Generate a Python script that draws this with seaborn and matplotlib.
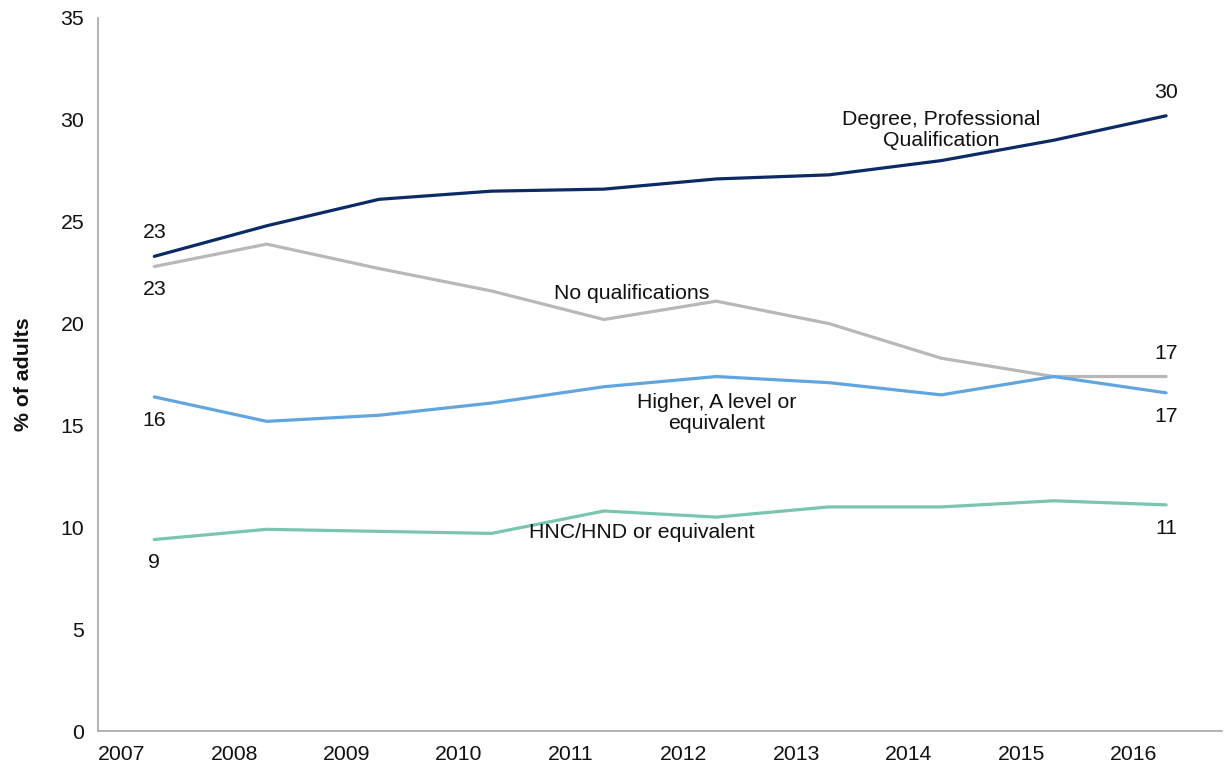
import numpy as np
import pandas as pd
import matplotlib
matplotlib.use("Agg")
import matplotlib.pyplot as plt
import seaborn as sns

# Survey years and share of adults (%) by highest qualification
years = [2007, 2008, 2009, 2010, 2011, 2012, 2013, 2014, 2015, 2016]
degree = [23.3, 24.8, 26.1, 26.5, 26.6, 27.1, 27.3, 28.0, 29.0, 30.2]
no_qual = [22.8, 23.9, 22.7, 21.6, 20.2, 21.1, 20.0, 18.3, 17.4, 17.4]
higher = [16.4, 15.2, 15.5, 16.1, 16.9, 17.4, 17.1, 16.5, 17.4, 16.6]
hnc = [9.4, 9.9, 9.8, 9.7, 10.8, 10.5, 11.0, 11.0, 11.3, 11.1]

series_names = ["Degree, Professional Qualification", "No qualifications",
                "Higher, A level or equivalent", "HNC/HND or equivalent"]
series_values = [degree, no_qual, higher, hnc]
series_colors = ["#0B2A66", "#B8B8B8", "#62A6E0", "#7AC5B2"]
y_ticks = [0, 5, 10, 15, 20, 25, 30, 35]

sns.set_style("white")
plt.rcParams["font.family"] = ["Liberation Sans", "DejaVu Sans"]
plt.rcParams["font.size"] = 15.3
plt.rcParams["text.color"] = "#111111"

rows = []
for name, vals in zip(series_names, series_values):
    for yr, v in zip(years, vals):
        rows.append({"year": yr + 0.5, "value": v, "series": name})
df = pd.DataFrame(rows)

fig = plt.figure(figsize=(12.26, 7.69), dpi=100)
ax = fig.add_axes([0.080, 0.0494, 0.917, 0.9272])

sns.lineplot(data=df, x="year", y="value", hue="series", hue_order=series_names,
             palette=dict(zip(series_names, series_colors)), linewidth=2.3,
             legend=False, ax=ax)

ax.set_xlim(2007, 2017)
ax.set_ylim(0, 35)
ax.set_yticks(y_ticks)
ax.set_yticklabels([str(t) for t in y_ticks])
ax.set_xticks(list(range(2007, 2018)))
ax.set_xticklabels([str(y) for y in years] + [""], ha="left")
ax.tick_params(axis="both", labelsize=15.3, labelcolor="#111111")
ax.tick_params(axis="x", length=5, width=1, color="#A6A6A6", pad=5)
ax.tick_params(axis="y", length=5, width=1, color="#A6A6A6", pad=5)
for side in ["top", "right"]:
    ax.spines[side].set_visible(False)
for side in ["left", "bottom"]:
    ax.spines[side].set_color("#A6A6A6")
    ax.spines[side].set_linewidth(1.2)

ax.set_xlabel("")
ax.set_ylabel("% of adults", fontweight="bold", labelpad=20, color="#111111")

# End-point value labels
first_x = years[0] + 0.5
last_x = years[-1] + 0.5
ax.annotate(f"{degree[0]:.0f}", (first_x, degree[0]), xytext=(0, 10),
            textcoords="offset points", ha="center", va="bottom")
ax.annotate(f"{no_qual[0]:.0f}", (first_x, no_qual[0]), xytext=(0, -10),
            textcoords="offset points", ha="center", va="top")
ax.annotate(f"{higher[0]:.0f}", (first_x, higher[0]), xytext=(0, -10),
            textcoords="offset points", ha="center", va="top")
ax.annotate(f"{hnc[0]:.0f}", (first_x, hnc[0]), xytext=(0, -10),
            textcoords="offset points", ha="center", va="top")
ax.annotate(f"{degree[-1]:.0f}", (last_x, degree[-1]), xytext=(0, 10),
            textcoords="offset points", ha="center", va="bottom")
ax.annotate(f"{no_qual[-1]:.0f}", (last_x, no_qual[-1]), xytext=(0, 10),
            textcoords="offset points", ha="center", va="bottom")
ax.annotate(f"{higher[-1]:.0f}", (last_x, higher[-1]), xytext=(0, -10),
            textcoords="offset points", ha="center", va="top")
ax.annotate(f"{hnc[-1]:.0f}", (last_x, hnc[-1]), xytext=(0, -10),
            textcoords="offset points", ha="center", va="top")

# Series name labels
ax.text(2014.5, 29.5, "Degree, Professional\nQualification", ha="center", va="center",
        linespacing=1.1)
ax.text(2011.75, 21.5, "No qualifications", ha="center", va="center")
ax.text(2012.5, 15.6, "Higher, A level or\nequivalent", ha="center", va="center",
        linespacing=1.1)
ax.text(2011.84, 9.75, "HNC/HND or equivalent", ha="center", va="center")

fig.savefig("out.png", dpi=100)
